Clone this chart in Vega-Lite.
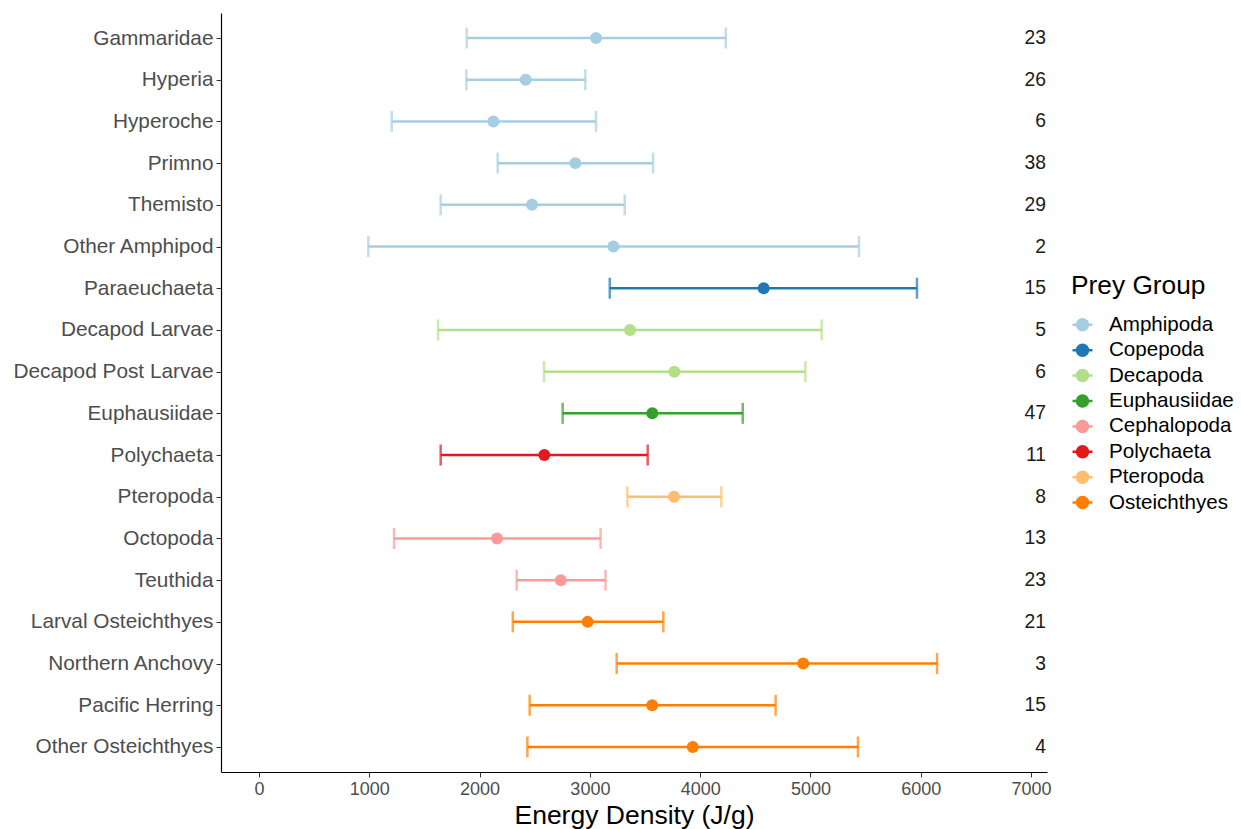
{
  "$schema": "https://vega.github.io/schema/vega-lite/v6.json",
  "autosize": "none",
  "width": 826,
  "height": 759,
  "padding": {"left": 221, "top": 13, "right": 194, "bottom": 57},
  "background": "white",
  "config": {
    "view": {"stroke": null},
    "font": "Liberation Sans",
    "axis": {"grid": false, "labelFont": "Liberation Sans", "titleFont": "Liberation Sans"}
  },
  "data": {
    "values": [
      {"prey": "Gammaridae", "group": "Amphipoda", "mean": 3056, "low": 1883, "high": 4232, "n": 23},
      {"prey": "Hyperia", "group": "Amphipoda", "mean": 2418, "low": 1880, "high": 2959, "n": 26},
      {"prey": "Hyperoche", "group": "Amphipoda", "mean": 2125, "low": 1203, "high": 3056, "n": 6},
      {"prey": "Primno", "group": "Amphipoda", "mean": 2868, "low": 2164, "high": 3573, "n": 38},
      {"prey": "Themisto", "group": "Amphipoda", "mean": 2475, "low": 1647, "high": 3316, "n": 29},
      {"prey": "Other Amphipod", "group": "Amphipoda", "mean": 3213, "low": 991, "high": 5440, "n": 2},
      {"prey": "Paraeuchaeta", "group": "Copepoda", "mean": 4576, "low": 3180, "high": 5966, "n": 15},
      {"prey": "Decapod Larvae", "group": "Decapoda", "mean": 3364, "low": 1623, "high": 5102, "n": 5},
      {"prey": "Decapod Post Larvae", "group": "Decapoda", "mean": 3766, "low": 2584, "high": 4954, "n": 6},
      {"prey": "Euphausiidae", "group": "Euphausiidae", "mean": 3566, "low": 2753, "high": 4386, "n": 47},
      {"prey": "Polychaeta", "group": "Polychaeta", "mean": 2587, "low": 1647, "high": 3524, "n": 11},
      {"prey": "Pteropoda", "group": "Pteropoda", "mean": 3763, "low": 3340, "high": 4192, "n": 8},
      {"prey": "Octopoda", "group": "Cephalopoda", "mean": 2158, "low": 1224, "high": 3097, "n": 13},
      {"prey": "Teuthida", "group": "Cephalopoda", "mean": 2736, "low": 2336, "high": 3142, "n": 23},
      {"prey": "Larval Osteichthyes", "group": "Osteichthyes", "mean": 2979, "low": 2301, "high": 3666, "n": 21},
      {"prey": "Northern Anchovy", "group": "Osteichthyes", "mean": 4934, "low": 3243, "high": 6148, "n": 3},
      {"prey": "Pacific Herring", "group": "Osteichthyes", "mean": 3565, "low": 2454, "high": 4684, "n": 15},
      {"prey": "Other Osteichthyes", "group": "Osteichthyes", "mean": 3933, "low": 2433, "high": 5431, "n": 4}
    ]
  },
  "encoding": {
    "y": {
      "field": "prey", "type": "nominal", "sort": null,
      "scale": {"type": "point", "padding": 0.6},
      "axis": {
        "title": null, "domainColor": "#000000", "domainWidth": 1.2,
        "tickColor": "#333333", "tickSize": 5, "labelPadding": 3, "labelLimit": 0,
        "labelFontSize": 20.8, "labelColor": "#4D4D4D"
      }
    }
  },
  "layer": [
    {
      "mark": {"type": "rule", "strokeWidth": 2.5},
      "encoding": {
        "x": {
          "field": "low", "type": "quantitative",
          "scale": {"domain": [-345, 7145], "nice": false, "zero": false},
          "axis": {
            "title": "Energy Density (J/g)", "titleFontSize": 26.5, "titleFontWeight": "normal",
            "titleColor": "#000000", "titlePadding": 4,
            "values": [0, 1000, 2000, 3000, 4000, 5000, 6000, 7000], "format": "d",
            "domainColor": "#000000", "domainWidth": 1.2, "tickColor": "#333333", "tickSize": 5,
            "labelFontSize": 18, "labelColor": "#4D4D4D", "labelPadding": 3
          }
        },
        "x2": {"field": "high"},
        "color": {
          "field": "group", "type": "nominal",
          "scale": {
            "domain": ["Amphipoda", "Copepoda", "Decapoda", "Euphausiidae", "Cephalopoda", "Polychaeta", "Pteropoda", "Osteichthyes"],
            "range": ["#A6CEE3", "#1F78B4", "#B2DF8A", "#33A02C", "#FB9A99", "#E31A1C", "#FDBF6F", "#FF7F00"]
          },
          "legend": {
            "title": "Prey Group", "orient": "none", "legendX": 850, "legendY": 260,
            "titleFontSize": 26.3, "titleFontWeight": "normal", "titleColor": "#000000", "titlePadding": 14,
            "labelFontSize": 20.6, "labelColor": "#000000", "labelOffset": 15, "labelLimit": 0,
            "symbolType": "M-1,0L1,0M0.55,0A0.55,0.55,0,1,1,-0.55,0A0.55,0.55,0,1,1,0.55,0Z",
            "symbolSize": 400, "symbolStrokeWidth": 2.5, "rowPadding": 2.4, "symbolOpacity": 1,
            "encode": {
              "symbols": {
                "update": {
                  "stroke": {"scale": "color", "field": "value"},
                  "fill": {"scale": "color", "field": "value"},
                  "opacity": {"value": 1}
                }
              }
            }
          }
        }
      }
    },
    {
      "mark": {"type": "tick", "thickness": 2.5, "size": 21, "orient": "vertical"},
      "encoding": {
        "x": {"field": "low", "type": "quantitative"},
        "color": {"field": "group", "type": "nominal"}
      }
    },
    {
      "mark": {"type": "tick", "thickness": 2.5, "size": 21, "orient": "vertical"},
      "encoding": {
        "x": {"field": "high", "type": "quantitative"},
        "color": {"field": "group", "type": "nominal"}
      }
    },
    {
      "mark": {"type": "circle", "size": 144, "opacity": 1},
      "encoding": {
        "x": {"field": "mean", "type": "quantitative"},
        "color": {"field": "group", "type": "nominal"}
      }
    },
    {
      "mark": {"type": "text", "align": "right", "baseline": "middle", "fontSize": 19.3, "color": "#1A1A1A", "font": "Liberation Sans"},
      "encoding": {
        "x": {"datum": 7135, "type": "quantitative"},
        "text": {"field": "n", "type": "quantitative"}
      }
    }
  ]
}
